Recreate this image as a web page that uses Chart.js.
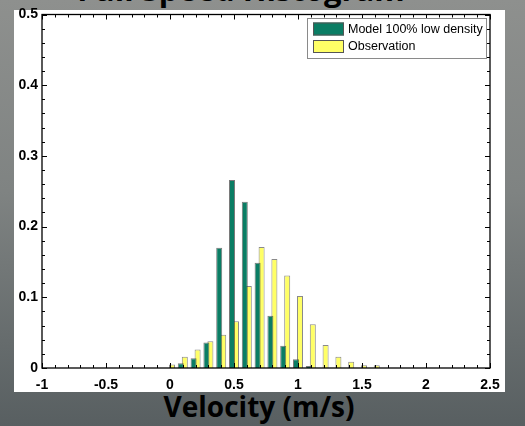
<!DOCTYPE html>
<html>
<head>
<meta charset="utf-8">
<script src="https://cdn.jsdelivr.net/npm/chart.js@4/dist/chart.umd.min.js"></script>
<style>
  html, body { margin: 0; padding: 0; }
  body {
    width: 525px; height: 426px; overflow: hidden; position: relative;
    background: linear-gradient(180deg, #8e908e 0%, #7f8382 45%, #666c6d 80%, #585f61 100%);
  }
  #title {
    position: absolute; left: 0; width: 482px; top: -26px; text-align: center;
    font: bold 31px "Open Sans", sans-serif; line-height: 1; color: #000; z-index: 0;
  }
  #paper {
    position: absolute; left: 14px; top: 10px; width: 491px; height: 382px;
    background: #fff; z-index: 1;
  }
  #xlabel {
    position: absolute; left: 0; width: 518px; top: 392px; text-align: center;
    font: bold 28px "Open Sans", sans-serif; line-height: 1; color: #000; z-index: 2;
  }
  #wrap { position: absolute; left: 0; top: 0; width: 525px; height: 426px; z-index: 3; }
</style>
</head>
<body>
<div id="title">Full Speed Histogram</div>
<div id="paper"></div>
<div id="xlabel">Velocity (m/s)</div>
<div id="wrap"><canvas id="histChart" width="525" height="426"></canvas></div>
<script>
// Bin centres (m/s) and relative frequencies
const bins = [0.0, 0.1, 0.2, 0.3, 0.4, 0.5, 0.6, 0.7, 0.8, 0.9, 1.0, 1.1, 1.2, 1.3, 1.4, 1.5, 1.6];
const modelValues = [null, 0.0066, 0.0137, 0.036, 0.170, 0.266, 0.235, 0.149, 0.074, 0.0316, 0.0123, 0.003, null, null, null, null, null];
const observationValues = [0.005, 0.016, 0.026, 0.038, 0.047, 0.066, 0.116, 0.171, 0.154, 0.131, 0.102, 0.062, 0.0325, 0.016, 0.009, 0.004, 0.004];

const xMin = -1, xMax = 2.5, xStep = 0.5, xMinor = 0.1;
const yMin = 0, yMax = 0.5, yStep = 0.1, yMinor = 0.02;

const green = '#0a7d64';
const yellow = '#ffff66';

// plain tick text: -1, -0.5, 0, 0.5 ...
const tickText = v => String(Math.round(v * 100) / 100);

// inward ticks on all four sides plus the box, matlab style
const boxTicks = {
    id: 'boxTicks',
    afterDraw(chart) {
        const { ctx, chartArea: a, scales } = chart;
        ctx.save();
        ctx.strokeStyle = '#000';
        ctx.lineWidth = 1;
        ctx.beginPath();
        const nx = Math.round((xMax - xMin) / xMinor);
        for (let i = 0; i <= nx; i++) {
            const px = Math.round(scales.x.getPixelForValue(xMin + i * xMinor)) + 0.5;
            const len = i % 5 === 0 ? 5 : 3;
            ctx.moveTo(px, a.bottom); ctx.lineTo(px, a.bottom - len);
            ctx.moveTo(px, a.top); ctx.lineTo(px, a.top + len);
        }
        const ny = Math.round((yMax - yMin) / yMinor);
        for (let i = 0; i <= ny; i++) {
            const py = Math.round(scales.y.getPixelForValue(yMin + i * yMinor)) + 0.5;
            const len = i % 5 === 0 ? 5 : 3;
            ctx.moveTo(a.left, py); ctx.lineTo(a.left + len, py);
            ctx.moveTo(a.right, py); ctx.lineTo(a.right - len, py);
        }
        ctx.stroke();
        ctx.lineWidth = 1.3;
        ctx.strokeRect(a.left, a.top, a.right - a.left, a.bottom - a.top);
        ctx.restore();
    }
};

// legend box inside the plot, top right
const boxLegend = {
    id: 'boxLegend',
    afterDraw(chart) {
        const { ctx, chartArea: a } = chart;
        const w = 179, h = 40;
        const bx = a.right - 4 - w, by = a.top + 3.5;
        ctx.save();
        ctx.fillStyle = '#fff';
        ctx.fillRect(bx, by, w, h);
        ctx.strokeStyle = '#8a8a8a';
        ctx.lineWidth = 1;
        ctx.strokeRect(bx + 0.5, by + 0.5, w, h);
        ctx.font = '12.5px "Liberation Sans", Arial, sans-serif';
        ctx.textBaseline = 'middle';
        chart.data.datasets.forEach((ds, i) => {
            const sy = by + 4.5 + i * 17.5;
            ctx.fillStyle = ds.backgroundColor;
            ctx.fillRect(bx + 6, sy, 31, 13);
            ctx.strokeStyle = '#555';
            ctx.strokeRect(bx + 6.5, sy + 0.5, 30, 12);
            ctx.fillStyle = '#000';
            ctx.fillText(ds.label, bx + 41, sy + 7);
        });
        ctx.restore();
    }
};

const ctx = document.getElementById('histChart').getContext('2d');
const histChart = new Chart(ctx, {
    type: 'bar',
    data: {
        datasets: [
            {
                label: 'Model 100% low density',
                data: bins.map((b, i) => ({ x: b, y: modelValues[i] })),
                backgroundColor: green,
                borderColor: 'rgba(50,50,50,0.65)',
                borderWidth: 1,
            },
            {
                label: 'Observation',
                data: bins.map((b, i) => ({ x: b, y: observationValues[i] })),
                backgroundColor: yellow,
                borderColor: 'rgba(60,60,60,0.6)',
                borderWidth: 1,
            },
        ],
    },
    options: {
        responsive: false,
        animation: false,
        datasets: {
            bar: { categoryPercentage: 0.625, barPercentage: 1.5 }
        },
        layout: { padding: { left: 14, top: 14.5, right: 35, bottom: 0 } },
        plugins: {
            legend: { display: false },
            tooltip: { enabled: false },
        },
        scales: {
            x: {
                type: 'linear',
                offset: false,
                min: xMin,
                max: xMax,
                grid: { display: false, drawTicks: false },
                border: { display: false },
                ticks: {
                    stepSize: xStep,
                    padding: 9,
                    color: '#000',
                    maxRotation: 0,
                    callback: tickText,
                    font: { family: '"Liberation Sans", Arial, sans-serif', size: 14, weight: 'bold' },
                },
                afterFit: s => { s.height = 58; },
            },
            y: {
                min: yMin,
                max: yMax,
                grid: { display: false, drawTicks: false },
                border: { display: false },
                ticks: {
                    stepSize: yStep,
                    padding: 4,
                    color: '#000',
                    callback: tickText,
                    font: { family: '"Liberation Sans", Arial, sans-serif', size: 14, weight: 'bold' },
                },
                afterFit: s => { s.width = 28; },
            },
        },
    },
    plugins: [boxTicks, boxLegend],
});
</script>
</body>
</html>
